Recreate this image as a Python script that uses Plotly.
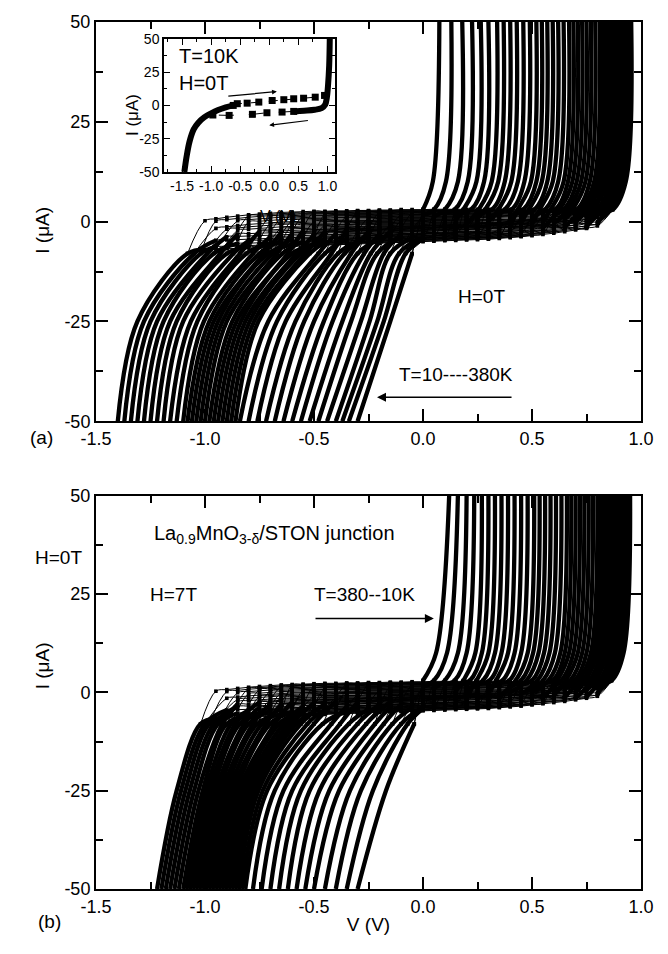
import plotly.graph_objects as go

# ---------------- data ----------------
T_K = [10, 20, 30, 40, 50, 60, 70, 80, 90, 100, 110, 120, 130, 140, 150, 160, 170, 180, 190,
       200, 210, 220, 230, 240, 250, 260, 270, 280, 290, 300, 310, 320, 330, 340, 350, 360, 370, 380]

# current levels (uA) at which the branch voltages below were read
I_NEG = [-50, -25, -8]
I_POS = [3, 10, 50]

# ---- panel (a), H = 0 T ----
VN50_A = [-1.40, -1.37, -1.34, -1.31, -1.28, -1.25, -1.22, -1.19, -1.16, -1.13, -1.10, -1.08, -1.06,
          -1.04, -1.02, -1.00, -0.98, -0.96, -0.94, -0.92, -0.90, -0.88, -0.86, -0.84, -0.80, -0.76,
          -0.72, -0.68, -0.64, -0.60, -0.56, -0.52, -0.48, -0.44, -0.40, -0.37, -0.34, -0.30]
VN25_A = [-1.31, -1.28, -1.25, -1.22, -1.19, -1.16, -1.13, -1.10, -1.065, -1.035, -1.005, -0.98, -0.96,
          -0.94, -0.92, -0.90, -0.875, -0.855, -0.835, -0.815, -0.795, -0.775, -0.755, -0.71, -0.67,
          -0.63, -0.585, -0.545, -0.50, -0.455, -0.415, -0.37, -0.33, -0.285, -0.245, -0.21, -0.18, -0.15]
VNK_A = [-1.08, -1.05, -1.02, -0.99, -0.96, -0.93, -0.90, -0.87, -0.84, -0.81, -0.78, -0.75, -0.73,
         -0.71, -0.69, -0.67, -0.645, -0.62, -0.60, -0.58, -0.56, -0.54, -0.52, -0.48, -0.45, -0.42,
         -0.39, -0.36, -0.33, -0.30, -0.27, -0.24, -0.21, -0.18, -0.15, -0.11, -0.08, -0.05]
VPK_A = [0.87, 0.86, 0.85, 0.84, 0.83, 0.82, 0.81, 0.80, 0.785, 0.77, 0.755, 0.74, 0.725, 0.705, 0.685,
         0.665, 0.645, 0.625, 0.605, 0.585, 0.56, 0.535, 0.51, 0.485, 0.46, 0.435, 0.405, 0.375, 0.345,
         0.315, 0.285, 0.255, 0.22, 0.185, 0.145, 0.10, 0.05, 0.0]
VP10_A = [0.93, 0.92, 0.91, 0.90, 0.89, 0.88, 0.87, 0.86, 0.845, 0.83, 0.815, 0.80, 0.785, 0.765, 0.745,
          0.725, 0.705, 0.685, 0.665, 0.645, 0.62, 0.595, 0.57, 0.545, 0.52, 0.495, 0.465, 0.435, 0.405,
          0.375, 0.345, 0.315, 0.28, 0.245, 0.205, 0.16, 0.105, 0.045]
VP50_A = [0.955, 0.945, 0.935, 0.925, 0.915, 0.905, 0.895, 0.885, 0.87, 0.855, 0.84, 0.825, 0.81, 0.79,
          0.77, 0.75, 0.73, 0.71, 0.69, 0.67, 0.645, 0.62, 0.595, 0.57, 0.545, 0.52, 0.49, 0.46, 0.43,
          0.40, 0.37, 0.34, 0.30, 0.265, 0.225, 0.18, 0.13, 0.075]
# per-curve shift of the upper / lower low-bias branch inside the hysteresis band (uA)
UOFF_A = [0.0, -2.4, -0.6, -3.0, -1.2, -3.6, -0.3, -1.8, -4.2, -0.9, -2.7, -1.5, -3.9, -0.45, -2.1,
          -3.3, -1.05, -4.5, -0.15, -2.55, -1.65, -3.45, -0.75, -2.85, -1.35, -4.05, -0.3, -1.95, -3.15,
          -0.6, -2.25, -3.75, -1.2, -2.7, -0.9, -1.8, -1.4, -1.0]
LOFF_A = [0.0, 2.2, 0.6, 3.0, 1.2, 3.6, 0.3, 1.8, 4.0, 0.9, 2.6, 1.5, 3.4, 0.45, 2.0, 3.2, 1.05, 3.8,
          0.15, 2.5, 1.6, 3.3, 0.75, 2.8, 1.35, 3.5, 0.5, 1.9, 3.0, 0.9, 2.2, 2.8, 1.4, 2.0, 1.0, 1.0,
          0.6, 0.4]

# shape of the low-bias hysteresis band: upper-branch top edge and lower-branch bottom edge (uA)
BAND_V = [-1.15, -1.10, -1.05, -1.00, -0.95, -0.90, -0.85, -0.80, -0.75, -0.70, -0.65, -0.60, -0.55,
          -0.50, -0.45, -0.40, -0.35, -0.30, -0.25, -0.20, -0.15, -0.10, -0.05, 0.00, 0.05, 0.10, 0.15,
          0.20, 0.25, 0.30, 0.35, 0.40, 0.45, 0.50, 0.55, 0.60, 0.65, 0.70, 0.75, 0.80, 0.85, 0.90]
UP_A = [-2.0, -1.2, -0.4, 0.2, 0.7, 1.1, 1.4, 1.7, 1.9, 2.1, 2.3, 2.4, 2.5, 2.6, 2.6, 2.7, 2.7, 2.8,
        2.8, 2.9, 2.9, 3.0, 3.0, 3.0, 3.1, 3.1, 3.1, 3.1, 3.1, 3.1, 3.1, 3.0, 3.0, 2.9, 2.9, 2.8, 2.7,
        2.6, 2.5, 2.4, 2.5, 3.0]
LO_A = [-7.5, -7.3, -7.1, -7.0, -6.9, -6.8, -6.7, -6.6, -6.5, -6.4, -6.3, -6.2, -6.1, -6.0, -5.9, -5.8,
        -5.7, -5.6, -5.5, -5.4, -5.3, -5.2, -5.1, -5.0, -4.9, -4.8, -4.7, -4.6, -4.5, -4.4, -4.2, -4.0,
        -3.8, -3.5, -3.2, -2.9, -2.5, -2.1, -1.6, -1.1, -0.5, 0.5]

# ---- panel (b), H = 7 T ----
VN50_B = [-1.22, -1.20, -1.18, -1.16, -1.14, -1.12, -1.10, -1.085, -1.07, -1.055, -1.04, -1.025, -1.01,
          -0.995, -0.98, -0.965, -0.95, -0.935, -0.92, -0.905, -0.89, -0.875, -0.86, -0.845, -0.83,
          -0.815, -0.78, -0.74, -0.70, -0.66, -0.62, -0.58, -0.54, -0.50, -0.45, -0.40, -0.35, -0.30]
VN25_B = [-1.13, -1.11, -1.09, -1.07, -1.05, -1.03, -1.01, -0.995, -0.98, -0.965, -0.95, -0.935, -0.92,
          -0.905, -0.89, -0.875, -0.86, -0.845, -0.83, -0.815, -0.80, -0.785, -0.77, -0.755, -0.735,
          -0.715, -0.68, -0.64, -0.60, -0.56, -0.52, -0.475, -0.43, -0.385, -0.335, -0.285, -0.23, -0.17]
VNK_B = [-1.02, -1.00, -0.98, -0.96, -0.94, -0.92, -0.90, -0.88, -0.86, -0.84, -0.82, -0.80, -0.78,
         -0.76, -0.74, -0.72, -0.70, -0.68, -0.66, -0.64, -0.62, -0.60, -0.58, -0.56, -0.53, -0.50,
         -0.46, -0.42, -0.38, -0.34, -0.30, -0.26, -0.22, -0.18, -0.14, -0.10, -0.07, -0.04]
VPK_B = [0.865, 0.855, 0.845, 0.835, 0.825, 0.815, 0.805, 0.79, 0.775, 0.76, 0.745, 0.73, 0.715, 0.695,
         0.675, 0.655, 0.635, 0.615, 0.595, 0.575, 0.55, 0.525, 0.50, 0.475, 0.45, 0.425, 0.395, 0.365,
         0.335, 0.305, 0.275, 0.245, 0.215, 0.185, 0.145, 0.10, 0.05, 0.0]
VP10_B = [0.92, 0.91, 0.90, 0.89, 0.88, 0.87, 0.86, 0.845, 0.83, 0.815, 0.80, 0.785, 0.77, 0.75,
          0.73, 0.71, 0.69, 0.67, 0.65, 0.63, 0.605, 0.58, 0.555, 0.53, 0.505, 0.48, 0.45, 0.42,
          0.39, 0.36, 0.33, 0.30, 0.27, 0.24, 0.20, 0.16, 0.11, 0.06]
VP50_B = [0.95, 0.94, 0.93, 0.92, 0.91, 0.90, 0.89, 0.875, 0.86, 0.845, 0.83, 0.815, 0.80, 0.78, 0.76,
          0.74, 0.72, 0.70, 0.68, 0.66, 0.635, 0.61, 0.585, 0.56, 0.535, 0.51, 0.48, 0.45, 0.42, 0.39,
          0.36, 0.33, 0.30, 0.27, 0.235, 0.20, 0.16, 0.12]
UOFF_B = [0.0, -2.2, -0.5, -2.8, -1.1, -3.4, -0.3, -1.7, -3.9, -0.8, -2.5, -1.4, -3.6, -0.4, -2.0,
          -3.1, -1.0, -4.1, -0.15, -2.4, -1.55, -3.2, -0.7, -2.65, -1.25, -3.8, -0.3, -1.85, -2.95,
          -0.55, -2.1, -3.5, -1.1, -2.5, -0.85, -1.7, -1.3, -0.9]
LOFF_B = [0.0, 2.0, 0.5, 2.8, 1.1, 3.3, 0.3, 1.7, 3.7, 0.8, 2.4, 1.4, 3.1, 0.4, 1.9, 3.0, 1.0, 3.5,
          0.15, 2.3, 1.5, 3.0, 0.7, 2.6, 1.25, 3.2, 0.5, 1.8, 2.8, 0.85, 2.0, 2.6, 1.3, 1.9, 0.9, 0.9,
          0.55, 0.35]
UP_B = [-2.2, -1.5, -0.8, -0.2, 0.3, 0.7, 1.0, 1.3, 1.5, 1.7, 1.9, 2.0, 2.1, 2.2, 2.3, 2.3, 2.4, 2.4,
        2.5, 2.5, 2.6, 2.6, 2.7, 2.7, 2.8, 2.8, 2.8, 2.8, 2.8, 2.8, 2.8, 2.7, 2.7, 2.6, 2.6, 2.5, 2.5,
        2.4, 2.3, 2.2, 2.4, 3.0]
LO_B = [-7.0, -6.9, -6.8, -6.7, -6.6, -6.5, -6.4, -6.3, -6.2, -6.1, -6.0, -5.9, -5.8, -5.7, -5.6, -5.5,
        -5.4, -5.3, -5.2, -5.1, -5.0, -4.9, -4.8, -4.7, -4.6, -4.5, -4.4, -4.3, -4.2, -4.1, -3.9, -3.7,
        -3.5, -3.2, -2.9, -2.6, -2.3, -1.9, -1.5, -1.0, -0.4, 0.5]

# ---- inset, T = 10 K, H = 0 T ----
INS_THICK_V = [-1.46, -1.42, -1.37, -1.30, -1.22, -1.12, -1.00, -0.88, -0.75, -0.62]
INS_THICK_I = [-50, -38, -27, -18, -13, -9, -6, -3.5, -1.5, 0.0]
INS_RISE_V = [0.42, 0.60, 0.78, 0.90, 0.96, 0.99, 1.01, 1.03, 1.04]
INS_RISE_I = [-4.5, -4.0, -3.3, -2.0, 0.5, 6.0, 15, 30, 50]
INS_UP_V = [-0.62, -0.55, -0.38, -0.18, 0.05, 0.25, 0.42, 0.59, 0.79, 0.95]
INS_UP_I = [0.0, 1.3, 1.7, 2.5, 3.7, 4.3, 5.0, 5.4, 6.2, 7.5]
INS_LO_V = [0.42, 0.22, -0.04, -0.29, -0.69, -0.97]
INS_LO_I = [-4.5, -5.0, -5.5, -6.7, -7.5, -7.2]

X_TICKS = [-1.5, -1.0, -0.5, 0.0, 0.5, 1.0]
X_TICKTEXT = ["-1.5", "-1.0", "-0.5", "0.0", "0.5", "1.0"]
Y_TICKS = [-50, -25, 0, 25, 50]
Y_TICKTEXT = ["-50", "-25", "0", "25", "50"]


def build(vn50, vn25, vnk, vpk, vp10, vp50, uoff, loff, up, lo):
    tx, ty, bx, by = [], [], [], []
    for k in range(len(vn50)):
        sel = [j for j, v in enumerate(BAND_V) if vnk[k] + 0.06 < v < vpk[k] - 0.03]
        ux = [BAND_V[j] for j in sel]
        uy = [up[j] + uoff[k] for j in sel]
        ly = [lo[j] + loff[k] for j in sel]
        # steep negative branch, bending into the lower band
        tx += [vn50[k], vn25[k], vnk[k]] + ux[:1] + [None]
        ty += I_NEG + ly[:1] + [None]
        # steep positive branch, leaving the upper band
        tx += ux[-1:] + [vpk[k], vp10[k], vp50[k], None]
        ty += uy[-1:] + I_POS + [None]
        # forward (upper) and backward (lower) low-bias branches
        bx += [vnk[k]] + ux + [vpk[k], None]
        by += [I_NEG[2]] + uy + [I_POS[0], None]
        bx += [vpk[k]] + ux[::-1] + [vnk[k], None]
        by += [I_POS[0]] + ly[::-1] + [I_NEG[2], None]
    return tx, ty, bx, by


FONT = "Arial, Liberation Sans, sans-serif"
fig = go.Figure()

for (xa, ya, arrs) in [
    ("x", "y", (VN50_A, VN25_A, VNK_A, VPK_A, VP10_A, VP50_A, UOFF_A, LOFF_A, UP_A, LO_A)),
    ("x2", "y2", (VN50_B, VN25_B, VNK_B, VPK_B, VP10_B, VP50_B, UOFF_B, LOFF_B, UP_B, LO_B)),
]:
    tx, ty, bx, by = build(*arrs)
    fig.add_trace(go.Scatter(x=bx, y=by, xaxis=xa, yaxis=ya, mode="lines+markers",
                             line=dict(color="black", width=1.0, shape="spline"),
                             marker=dict(symbol="square", size=3.6, color="black"),
                             showlegend=False, hoverinfo="skip"))
    fig.add_trace(go.Scatter(x=tx, y=ty, xaxis=xa, yaxis=ya, mode="lines",
                             line=dict(color="black", width=4.3, shape="spline"),
                             showlegend=False, hoverinfo="skip"))

# inset
fig.add_trace(go.Scatter(x=INS_UP_V, y=INS_UP_I, xaxis="x3", yaxis="y3", mode="lines+markers",
                         line=dict(color="black", width=1, dash="dash"),
                         marker=dict(symbol="square", size=7, color="black"),
                         showlegend=False, hoverinfo="skip"))
fig.add_trace(go.Scatter(x=INS_LO_V, y=INS_LO_I, xaxis="x3", yaxis="y3", mode="lines+markers",
                         line=dict(color="black", width=1, dash="longdash"),
                         marker=dict(symbol="square", size=7, color="black"),
                         showlegend=False, hoverinfo="skip"))
fig.add_trace(go.Scatter(x=INS_THICK_V, y=INS_THICK_I, xaxis="x3", yaxis="y3", mode="lines",
                         line=dict(color="black", width=6, shape="spline"),
                         showlegend=False, hoverinfo="skip"))
fig.add_trace(go.Scatter(x=INS_RISE_V, y=INS_RISE_I, xaxis="x3", yaxis="y3", mode="lines",
                         line=dict(color="black", width=6, shape="spline"),
                         showlegend=False, hoverinfo="skip"))

# ---------------- layout ----------------
W, H = 668, 954
L, R, TOP, B = 96, 27, 16, 65
PW, PH = W - L - R, H - TOP - B


def px(xp):
    return (xp - L) / PW


def py(yp):
    return (H - B - yp) / PH


def main_axis(domain, rng, minor_dt, anchor, vals, text, title=None):
    d = dict(domain=domain, range=rng, anchor=anchor, showline=True, linewidth=2, linecolor="black",
             mirror="ticks", ticks="inside", ticklen=12, tickwidth=1.5, tickcolor="black",
             tickvals=vals, ticktext=text, showgrid=False, zeroline=False,
             tickfont=dict(family=FONT, size=18, color="black"),
             minor=dict(ticks="inside", ticklen=7, tickwidth=1.5, tickcolor="black", dtick=minor_dt,
                        showgrid=False))
    if title:
        d["title"] = dict(text=title, font=dict(family=FONT, size=19, color="black"), standoff=2)
    return d


def inset_axis(domain, rng, minor_dt, anchor, vals, text):
    return dict(domain=domain, range=rng, anchor=anchor, showline=True, linewidth=1.5, linecolor="black",
                mirror="ticks", ticks="inside", ticklen=6, tickwidth=1, tickcolor="black",
                tickvals=vals, ticktext=text, showgrid=False, zeroline=False,
                tickfont=dict(family=FONT, size=14, color="black"),
                minor=dict(ticks="inside", ticklen=3, tickwidth=1, tickcolor="black", dtick=minor_dt,
                           showgrid=False))


fig.update_layout(
    width=W, height=H, margin=dict(l=L, r=R, t=TOP, b=B),
    paper_bgcolor="white", plot_bgcolor="rgba(0,0,0,0)",
    xaxis=main_axis([0, 1], [-1.5, 1.0], 0.25, "y", X_TICKS, X_TICKTEXT),
    yaxis=main_axis([py(418), 1.0], [-50, 50], 12.5, "x", Y_TICKS, Y_TICKTEXT),
    xaxis2=main_axis([0, 1], [-1.5, 1.0], 0.25, "y2", X_TICKS, X_TICKTEXT, title="V (V)"),
    yaxis2=main_axis([0.0, py(493)], [-50, 50], 12.5, "x2", Y_TICKS, Y_TICKTEXT),
    xaxis3=inset_axis([px(164), px(335)], [-1.81, 1.13], 0.25, "y3", X_TICKS, X_TICKTEXT),
    yaxis3=inset_axis([py(167), py(33)], [-50, 50], 12.5, "x3", Y_TICKS, Y_TICKTEXT),
    font=dict(family=FONT, color="black"),
)

tf = dict(family=FONT, size=19, color="black")
ann = [
    dict(x=px(30), y=py(200), xref="paper", yref="paper", text="I (μA)", textangle=-90,
         showarrow=False, font=tf),
    dict(x=px(30), y=py(690), xref="paper", yref="paper", text="I (μA)", textangle=-90,
         showarrow=False, font=tf),
    dict(x=px(121), y=py(87), xref="paper", yref="paper", text="I (μA)", textangle=-90,
         showarrow=False, font=dict(family=FONT, size=17, color="black")),
    dict(x=px(258), y=py(201), xref="paper", yref="paper", text="V (V)",
         showarrow=False, font=dict(family=FONT, size=16, color="black")),
    dict(x=px(28), y=py(434), xref="paper", yref="paper", text="(a)", showarrow=False, font=tf),
    dict(x=px(36), y=py(934), xref="paper", yref="paper", text="(b)", showarrow=False, font=tf),
    dict(x=px(84), y=py(555), xref="paper", yref="paper", text="H=0T", xanchor="right",
         showarrow=False, font=tf),
    # panel (a)
    dict(x=0.27, y=-18.8, xref="x", yref="y", text="H=0T", showarrow=False, font=tf),
    dict(x=0.15, y=-38.2, xref="x", yref="y", text="T=10----380K", showarrow=False, font=tf),
    dict(x=-0.211, y=-44, ax=0.413, ay=-44, xref="x", yref="y", axref="x", ayref="y",
         text="", showarrow=True, arrowhead=2, arrowsize=1.2, arrowwidth=1.5, arrowcolor="black"),
    # inset
    dict(x=-1.58, y=37.3, xref="x3", yref="y3", text="T=10K", xanchor="left", showarrow=False,
         font=dict(family=FONT, size=20, color="black")),
    dict(x=-1.58, y=16.8, xref="x3", yref="y3", text="H=0T", xanchor="left", showarrow=False,
         font=dict(family=FONT, size=20, color="black")),
    dict(x=0.13, y=10.4, ax=-0.73, ay=6.9, xref="x3", yref="y3", axref="x3", ayref="y3",
         text="", showarrow=True, arrowhead=2, arrowsize=0.8, arrowwidth=1.2, arrowcolor="black"),
    dict(x=0.0, y=-14.9, ax=0.69, ay=-11.2, xref="x3", yref="y3", axref="x3", ayref="y3",
         text="", showarrow=True, arrowhead=2, arrowsize=0.8, arrowwidth=1.2, arrowcolor="black"),
    # panel (b)
    dict(x=-0.68, y=40.1, xref="x2", yref="y2",
         text="La<sub>0.9</sub>MnO<sub>3-δ</sub>/STON junction", showarrow=False,
         font=dict(family=FONT, size=20, color="black")),
    dict(x=-1.145, y=24.8, xref="x2", yref="y2", text="H=7T", showarrow=False, font=tf),
    dict(x=-0.27, y=24.8, xref="x2", yref="y2", text="T=380--10K", showarrow=False, font=tf),
    dict(x=0.05, y=18.8, ax=-0.50, ay=18.8, xref="x2", yref="y2", axref="x2", ayref="y2",
         text="", showarrow=True, arrowhead=2, arrowsize=1.2, arrowwidth=1.5, arrowcolor="black"),
]
fig.update_layout(annotations=ann)

fig.write_html("out.html")
